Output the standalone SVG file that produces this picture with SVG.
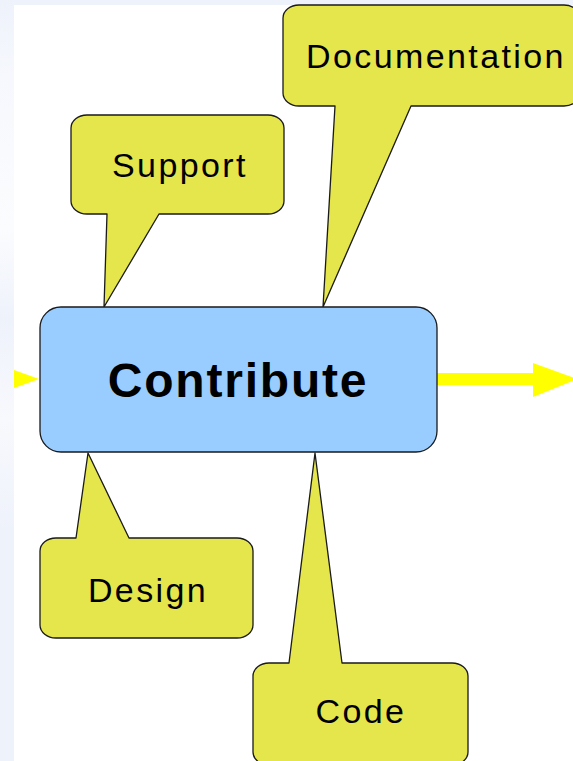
<svg xmlns="http://www.w3.org/2000/svg" width="573" height="761" viewBox="0 0 573 761">
  <defs>
    <style>
      .callout { fill: #e5e54c; stroke: #1a1a1a; stroke-width: 1.3; stroke-linejoin: round; }
      .main { fill: #99ccff; stroke: #1a1a1a; stroke-width: 1.3; }
      .lbl { font-family: "Liberation Sans", Arial, sans-serif; font-size: 34px; letter-spacing: 2.4px; fill: #000; text-anchor: middle; }
      .title { font-family: "Liberation Sans", Arial, sans-serif; font-size: 48px; font-weight: bold; letter-spacing: 1.8px; fill: #000; text-anchor: middle; }
      .flow { fill: #ffff00; stroke: none; }
    </style>
    <linearGradient id="edge" x1="0" y1="0" x2="0" y2="1">
      <stop offset="0" stop-color="#eef2fb"/>
      <stop offset="0.1" stop-color="#f6f8fd"/>
      <stop offset="0.3" stop-color="#fbfcfe"/>
      <stop offset="0.42" stop-color="#eef2fb"/>
      <stop offset="0.55" stop-color="#f8f9fd"/>
      <stop offset="0.7" stop-color="#eef2fb"/>
      <stop offset="1" stop-color="#eef2fb"/>
    </linearGradient>
  </defs>
  <rect x="0" y="0" width="573" height="761" fill="#eef2fb"/>
  <rect x="0" y="0" width="14" height="761" fill="url(#edge)"/>
  <rect x="14" y="5" width="559" height="756" fill="#ffffff"/>

  <g id="connectors">
    <polygon class="flow" points="14,370 39,379 14,388"/>
    <rect class="flow" x="437" y="373" width="97" height="12"/>
    <polygon class="flow" points="533,363 577,379 533,397"/>
  </g>

  <g id="support">
    <path class="callout" d="M87,115 H268 A16,13 0 0 1 284,128 V201 A16,13 0 0 1 268,214 H159 L104,307 L107,214 H87 A16,13 0 0 1 71,201 V128 A16,13 0 0 1 87,115 Z"/>
    <text class="lbl" x="180" y="177">Support</text>
  </g>

  <g id="documentation">
    <path class="callout" d="M299,5 H564 A16,13 0 0 1 580,18 V93 A16,13 0 0 1 564,106 H411 L323,307 L335,106 H299 A16,13 0 0 1 283,93 V18 A16,13 0 0 1 299,5 Z"/>
    <text class="lbl" x="436" y="68">Documentation</text>
  </g>

  <g id="contribute">
    <rect class="main" x="40" y="307" width="397" height="145" rx="21" ry="21"/>
    <text class="title" x="238" y="397">Contribute</text>
  </g>

  <g id="design">
    <path class="callout" d="M56,538 H76 L88,453 L129,538 H237 A16,13 0 0 1 253,551 V625 A16,13 0 0 1 237,638 H56 A16,13 0 0 1 40,625 V551 A16,13 0 0 1 56,538 Z"/>
    <text class="lbl" x="148" y="602">Design</text>
  </g>

  <g id="code">
    <path class="callout" d="M269,663 H289 L315,453 L342,663 H452 A16,13 0 0 1 468,676 V752 A16,13 0 0 1 452,765 H269 A16,13 0 0 1 253,752 V676 A16,13 0 0 1 269,663 Z"/>
    <text class="lbl" x="361" y="723">Code</text>
  </g>
</svg>
